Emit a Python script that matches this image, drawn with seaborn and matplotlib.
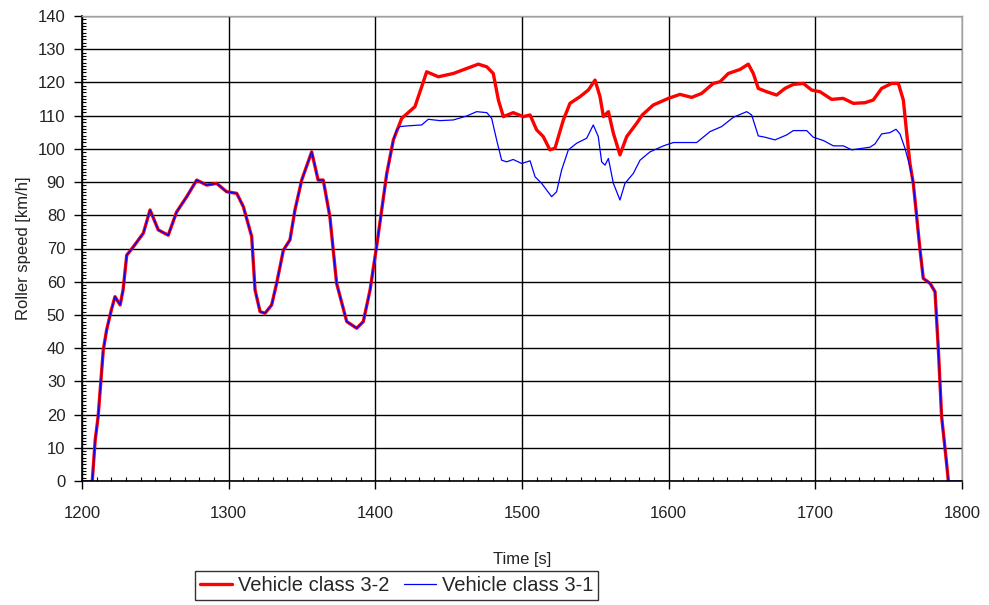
import numpy as np
import pandas as pd
import matplotlib
matplotlib.use("Agg")
import matplotlib.pyplot as plt
import seaborn as sns
from matplotlib.ticker import MultipleLocator

# shared part of the cycle (both vehicle classes drive the same trace here)
rise_t = [1200, 1207, 1209, 1211, 1214.5, 1216.8, 1220, 1222.5, 1226, 1228, 1230.5, 1235,
          1241.8, 1246.4, 1252, 1258.8, 1264.5, 1271.4, 1278.2, 1285, 1291.8, 1298.6,
          1305.5, 1310, 1315.7, 1318, 1321.4, 1324.8, 1329.3, 1332.7, 1337.3, 1341.8,
          1345.2, 1349.8, 1356.6, 1361, 1364.5, 1369, 1373.6, 1380.5, 1387.3, 1391.8,
          1396.4, 1401, 1407.8, 1412.3]
rise_v = [0, 0, 12.3, 19.4, 39.4, 45.5, 51.5, 55.5, 53, 57.5, 68, 70.5,
          74.6, 81.6, 75.6, 74, 81, 85.6, 90.6, 89.1, 89.6, 87.1,
          86.6, 82.6, 73.6, 57.5, 51, 50.5, 53, 59.5, 69.5, 72.6,
          81.6, 90.6, 99.1, 90.6, 90.6, 79.6, 59.5, 48, 46, 48,
          57.5, 71, 92.6, 102.7]

# vehicle class 3-2 (red)
red_t = [1418, 1427, 1431.6, 1435, 1443, 1453.2, 1462.3, 1470.2, 1476, 1480.4, 1483.9,
         1487.3, 1494, 1500.9, 1505.5, 1510, 1514.5, 1519, 1522.5, 1528.2, 1532.7,
         1539.5, 1545.2, 1549.8, 1553.2, 1555.5, 1558.9, 1562.3, 1566.8, 1571.4, 1578.2,
         1582, 1589.5, 1599.8, 1607.7, 1615.7, 1622.5, 1630.4, 1635, 1640.7, 1648.6,
         1654.3, 1657.7, 1661.1, 1666.8, 1673.6, 1679.3, 1685, 1691.8, 1697.5, 1703.2,
         1711.1, 1719, 1725.9, 1733.9, 1739.5, 1745.2, 1752, 1756.6, 1760, 1762.3, 1764.5]
red_v = [109.2, 112.7, 118.7, 123.2, 121.7, 122.7, 124.2, 125.5, 124.7, 122.7, 114.7,
         109.7, 110.9, 109.7, 110.2, 105.7, 103.7, 99.7, 100.2, 108.7, 113.7,
         115.7, 117.7, 120.7, 115.7, 109.7, 111.2, 104.7, 98.2, 103.7, 107.7,
         110.2, 113.2, 115.2, 116.4, 115.5, 116.7, 119.7, 120.2, 122.7, 123.9,
         125.5, 122.7, 118.2, 117.2, 116.2, 118.2, 119.4, 119.7, 117.7, 117.2,
         114.9, 115.2, 113.7, 113.9, 114.7, 118.2, 119.7, 119.7, 114.7, 104.7, 95.6]

# vehicle class 3-1 (blue)
blue_t = [1414.5, 1416.8, 1421.4, 1431.6, 1436.1, 1444, 1453.2, 1462.3, 1469.1, 1476,
          1479.3, 1482.7, 1486.1, 1489.5, 1494, 1499.8, 1505.5, 1508.9, 1513.4, 1520.2,
          1523.6, 1527, 1531.6, 1537.3, 1544.1, 1548.6, 1552, 1554.3, 1556.6, 1558.9,
          1562.3, 1566.8, 1570.2, 1575.9, 1580.5, 1587.3, 1596.4, 1603.2, 1619.1, 1628.2,
          1636.1, 1644.1, 1653.2, 1656.6, 1661.1, 1665.7, 1672.5, 1680.5, 1685, 1694.1,
          1698.6, 1705.5, 1712.3, 1719.1, 1724.8, 1737.3, 1740.7, 1745.2, 1750.9, 1755,
          1757.7, 1761.1, 1764.5]
blue_v = [105.7, 106.7, 106.9, 107.2, 108.9, 108.5, 108.7, 109.9, 111.2, 110.9,
          109.2, 102.7, 96.6, 96.1, 96.8, 95.6, 96.4, 91.6, 89.6, 85.6,
          87.1, 93.6, 99.7, 101.7, 103.2, 107.2, 103.7, 96.1, 95.1, 97.1,
          89.6, 84.6, 89.6, 92.6, 96.6, 99.1, 100.9, 101.9, 101.9, 105.2,
          106.7, 109.5, 111.2, 110.2, 103.9, 103.5, 102.7, 104.2, 105.5, 105.5,
          103.5, 102.5, 100.9, 100.9, 99.7, 100.5, 101.5, 104.5, 104.9, 105.9,
          104.5, 100.2, 94.6]

# shared deceleration at the end
fall_t = [1766.8, 1769.1, 1771.4, 1773.6, 1778.2, 1781.6, 1783.9, 1786.1, 1789.5, 1790.7]
fall_v = [89.6, 79.6, 69.5, 61, 59.5, 57, 39.4, 19.4, 5.3, 0]

df_32 = pd.DataFrame({"t": rise_t[1:] + red_t + fall_t,
                      "v": rise_v[1:] + red_v + fall_v})
df_31 = pd.DataFrame({"t": rise_t + blue_t + fall_t + [1800],
                      "v": rise_v + blue_v + fall_v + [0]})

sns.set_style("white")
plt.rcParams["font.family"] = ["Liberation Sans", "DejaVu Sans"]

fig = plt.figure(figsize=(9.89, 6.05), dpi=100)
ax = fig.add_axes([82 / 989, 1 - 481 / 605, 880 / 989, 465 / 605])

sns.lineplot(data=df_32, x="t", y="v", ax=ax, color="#ff0000", linewidth=2.4,
             label="Vehicle class 3-2", sort=False, estimator=None)
sns.lineplot(data=df_31, x="t", y="v", ax=ax, color="#0000ff", linewidth=0.9,
             label="Vehicle class 3-1", sort=False, estimator=None)

ax.set_xlim(1200, 1800)
ax.set_ylim(0, 140)
ax.xaxis.set_major_locator(MultipleLocator(100))
ax.xaxis.set_minor_locator(MultipleLocator(10))
ax.yaxis.set_major_locator(MultipleLocator(10))
ax.yaxis.set_minor_locator(MultipleLocator(1))
ax.grid(True, which="major", color="black", linewidth=1.0)
ax.set_axisbelow(True)

ax.tick_params(axis="both", which="major", direction="out", length=6, width=1,
               color="black", labelsize=12, labelcolor="#222222")
ax.tick_params(axis="y", which="major", pad=6)
ax.tick_params(axis="x", which="major", pad=12)
ax.tick_params(axis="both", which="minor", direction="in", length=3, width=0.8,
               color="black")
ax.tick_params(axis="x", which="both", bottom=True)
ax.tick_params(axis="y", which="both", left=True)

for side in ["left", "bottom"]:
    ax.spines[side].set_color("black")
    ax.spines[side].set_linewidth(1.2)
for side in ["top", "right"]:
    ax.spines[side].set_color("#a0a0a0")
    ax.spines[side].set_linewidth(1.0)

ax.set_xlabel("Time [s]", fontsize=12, color="#222222", labelpad=22)
ax.set_ylabel("Roller speed [km/h]", fontsize=12, color="#222222", labelpad=5)

ax.get_legend().remove()
handles, labels = ax.get_legend_handles_labels()
leg = fig.legend(handles, labels, loc="lower left", bbox_to_anchor=(195 / 989, 5 / 605),
                 ncol=2, frameon=True, fancybox=False, fontsize=14.5,
                 handlelength=1.6, handletextpad=0.3, columnspacing=0.7,
                 borderpad=0.25, borderaxespad=0)
leg.get_frame().set_edgecolor("black")
leg.get_frame().set_linewidth(1.0)

fig.savefig("out.png", dpi=100)
